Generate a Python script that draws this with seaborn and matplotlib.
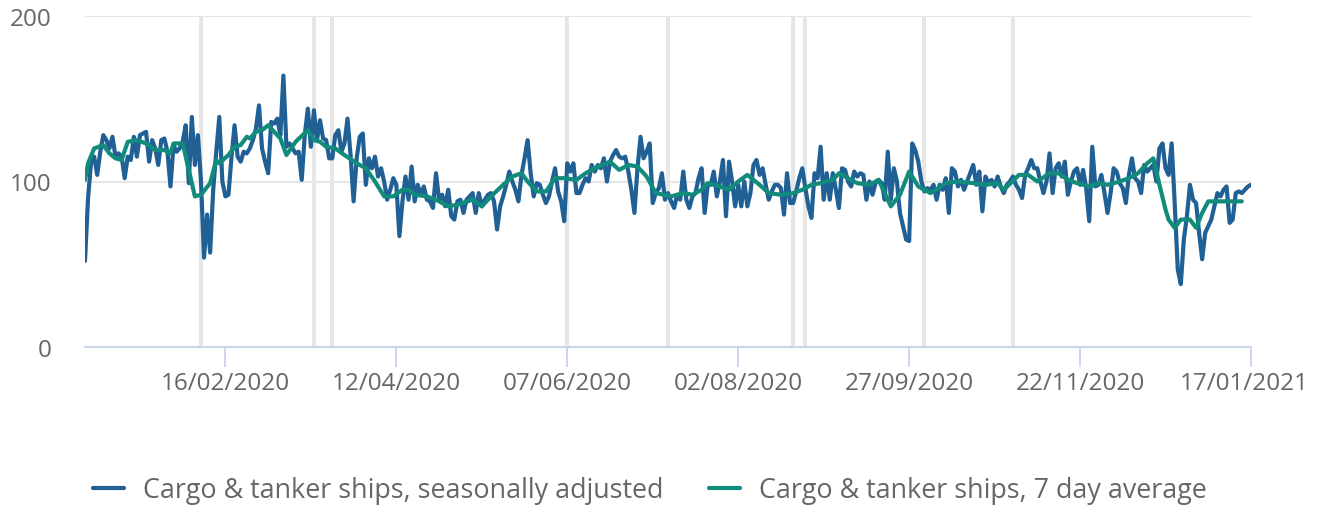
import pandas as pd
import matplotlib.pyplot as plt
import matplotlib.dates as mdates
import matplotlib.transforms as mtransforms
import seaborn as sns

# daily index, seasonally adjusted, starting 01/01/2020
start_date = '2020-01-01'
adjusted = [
    52, 90, 112, 115, 104, 118, 128, 125, 120, 127,
    115, 117, 115, 102, 115, 113, 127, 115, 128, 129,
    130, 112, 125, 120, 110, 125, 126, 118, 97, 122,
    118, 120, 124, 134, 99, 139, 110, 128, 100, 54,
    80, 57, 95, 118, 139, 100, 91, 92, 115, 134,
    115, 112, 118, 117, 120, 125, 132, 146, 120, 112,
    105, 136, 135, 138, 128, 164, 121, 123, 120, 117,
    118, 101, 128, 144, 121, 143, 125, 137, 126, 125,
    114, 114, 128, 131, 118, 123, 138, 116, 88, 114,
    127, 129, 98, 114, 108, 115, 103, 108, 100, 89,
    95, 102, 98, 67, 88, 103, 89, 109, 88, 98,
    92, 97, 89, 88, 84, 105, 89, 92, 85, 95,
    79, 77, 88, 89, 81, 89, 91, 93, 81, 93,
    85, 89, 92, 93, 88, 71, 85, 91, 98, 106,
    100, 95, 88, 104, 114, 125, 105, 91, 99, 98,
    92, 87, 91, 100, 108, 94, 88, 76, 111, 106,
    111, 93, 93, 98, 102, 100, 110, 106, 110, 108,
    114, 100, 112, 116, 119, 115, 114, 115, 106, 95,
    81, 108, 127, 114, 118, 123, 87, 93, 96, 105,
    89, 93, 88, 84, 92, 89, 106, 89, 84, 91,
    93, 102, 108, 81, 98, 98, 106, 91, 100, 113,
    79, 112, 100, 85, 98, 85, 100, 85, 93, 110,
    113, 104, 108, 98, 89, 94, 98, 98, 96, 80,
    105, 87, 87, 94, 102, 108, 96, 85, 78, 105,
    102, 121, 89, 105, 89, 105, 95, 84, 108, 107,
    100, 97, 106, 103, 105, 104, 89, 100, 92, 99,
    101, 99, 89, 118, 89, 108, 100, 81, 73, 65,
    64, 123, 119, 112, 100, 94, 96, 95, 98, 89,
    98, 95, 102, 81, 108, 106, 97, 101, 95, 100,
    105, 110, 98, 106, 82, 103, 99, 101, 97, 103,
    97, 93, 98, 100, 103, 98, 95, 90, 104, 108,
    113, 108, 108, 100, 93, 100, 117, 93, 108, 111,
    103, 112, 92, 100, 106, 108, 98, 107, 96, 76,
    121, 97, 98, 104, 93, 81, 93, 108, 106, 99,
    96, 87, 104, 114, 102, 100, 93, 110, 106, 108,
    110, 100, 120, 123, 108, 104, 123, 87, 47, 38,
    65, 79, 98, 89, 87, 69, 53, 69, 73, 77,
    85, 93, 91, 95, 97, 75, 77, 93, 94, 93,
    95, 97, 98,
]

avg_day = [0, 1, 3, 6, 8, 10, 12, 14, 17, 20, 23, 26, 28, 29, 32, 34, 36, 38,
           41, 43, 44, 47, 49, 51, 53, 54, 56, 58, 60, 62, 64, 66, 69, 73, 75,
           77, 79, 82, 85, 89, 92, 95, 98, 101, 104, 106, 108, 112, 115, 119,
           122, 127, 130, 133, 137, 140, 143, 145, 148, 151, 154, 157, 161,
           164, 167, 172, 175, 178, 181, 184, 187, 192, 196, 199, 202, 204,
           208, 211, 214, 217, 221, 224, 228, 232, 235, 238, 241, 245, 247,
           250, 253, 257, 260, 262, 264, 267, 270, 273, 277, 282, 286, 291,
           295, 299, 301, 306, 309, 312, 316, 319, 322, 325, 329, 332, 335,
           339, 342, 345, 348, 350, 352, 354, 355, 357, 359, 362, 364, 366,
           368, 379]
avg_value = [101, 111, 120, 122, 117, 114, 113, 124, 125, 123, 119, 119, 117,
             123, 123, 107, 91, 92, 99, 113, 111, 116, 121, 122, 127, 126, 130,
             131, 134, 130, 126, 116, 124, 131, 125, 124, 121, 120, 116, 111,
             108, 100, 91, 91, 95, 95, 92, 91, 89, 85, 86, 89, 85, 91, 98, 103,
             105, 100, 94, 94, 102, 102, 101, 105, 108, 112, 107, 110, 109,
             103, 93, 91, 93, 92, 95, 99, 97, 95, 100, 104, 98, 93, 92, 93, 95,
             98, 99, 101, 105, 102, 99, 98, 101, 93, 85, 92, 106, 97, 93, 99,
             100, 99, 98, 99, 95, 104, 104, 100, 105, 105, 101, 99, 97, 99, 98,
             100, 102, 105, 111, 114, 98, 83, 77, 72, 77, 77, 72, 81, 88, 88]

event_dates = ['2020-02-08', '2020-03-16', '2020-03-22', '2020-06-07',
               '2020-07-10', '2020-08-20', '2020-08-24', '2020-10-02',
               '2020-10-31']
tick_dates = ['2020-02-16', '2020-04-12', '2020-06-07', '2020-08-02',
              '2020-09-27', '2020-11-22', '2021-01-17']

label_adj = 'Cargo & tanker ships, seasonally adjusted'
label_avg = 'Cargo & tanker ships, 7 day average'

sns.set_style('white')
plt.rcParams['font.family'] = ['Open Sans', 'DejaVu Sans']

start = pd.Timestamp(start_date)
daily = pd.DataFrame({'date': pd.date_range(start, periods=len(adjusted), freq='D'),
                      'value': adjusted})
avg = pd.DataFrame({'date': start + pd.to_timedelta(avg_day, unit='D'),
                    'value': avg_value})

fig = plt.figure(figsize=(13.18, 5.06), dpi=100)
ax = fig.add_axes([85 / 1318, 1 - 348 / 506, (1251 - 85) / 1318, (348 - 17) / 506])

for d in event_dates:
    ax.axvline(pd.Timestamp(d), color='#e6e6e6', lw=2.8, zorder=1)

sns.lineplot(data=daily, x='date', y='value', color='#206095', lw=3,
             ax=ax, label=label_adj, zorder=3)
sns.lineplot(data=avg, x='date', y='value', color='#118c7b', lw=3,
             ax=ax, label=label_avg, zorder=4)

ax.set_ylim(0, 200)
ax.set_yticks([0, 100, 200])
ax.set_xlim(daily['date'].iloc[0], daily['date'].iloc[-1])
ax.set_xticks([pd.Timestamp(t) for t in tick_dates])
ax.xaxis.set_major_formatter(mdates.DateFormatter('%d/%m/%Y'))
ax.set_xlabel('')
ax.set_ylabel('')

ax.grid(axis='y', color='#e6e6e6', lw=1.5, zorder=0)
ax.grid(axis='x', visible=False)
for s in ['top', 'right', 'left']:
    ax.spines[s].set_visible(False)
ax.spines['bottom'].set_color('#ccd6eb')
ax.spines['bottom'].set_linewidth(1.5)
ax.tick_params(axis='x', bottom=True, length=14.4, width=1.4, color='#ccd6eb',
               pad=3, labelsize=17.5, labelcolor='#666666')
ax.tick_params(axis='y', left=False, length=0, pad=24, labelsize=17.5,
               labelcolor='#666666')

# last date label is pulled in a little so it stays inside the figure
last = ax.get_xticklabels()[-1]
last.set_transform(last.get_transform() +
                   mtransforms.ScaledTranslation(-0.07, 0, fig.dpi_scale_trans))

ax.get_legend().remove()
h, l = ax.get_legend_handles_labels()
fig.legend(h, l, loc='center', bbox_to_anchor=(0.493, 1 - 491 / 506), ncol=2,
           frameon=False, fontsize=19.4, labelcolor='#666666', handlelength=1.15,
           handletextpad=0.7, columnspacing=1.7)

fig.savefig('out.png', dpi=100)
